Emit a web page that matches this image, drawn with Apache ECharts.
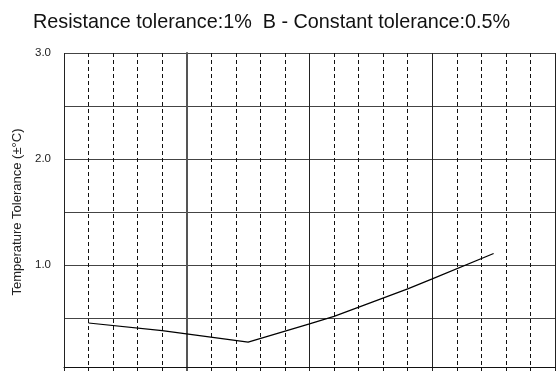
<!DOCTYPE html>
<html>
<head>
    <meta charset="utf-8">
    <title>Temperature tolerance</title>
    <script src="https://cdn.jsdelivr.net/npm/echarts@6/dist/echarts.min.js"></script>
</head>
<body style="margin:0">
    <div id="main" style="width: 558px;height:371px;"></div>
    <script type="text/javascript">
        // temperature (°C) and tolerance (±°C)
        var temps = [-40, -10, 25, 50, 60, 90, 100, 125];
        var tolerance = [0.453, 0.381, 0.272, 0.444, 0.515, 0.775, 0.869, 1.108];
        var yLabels = [1, 2, 3];

        var data = temps.map(function (t, i) { return [t, tolerance[i]]; });

        var myChart = echarts.init(document.getElementById('main'));

        var option = {
            animation: false,
            title: {
                text: 'Resistance tolerance:1%  B - Constant tolerance:0.5%',
                left: 28,
                top: 8,
                textStyle: {
                    fontFamily: 'Liberation Sans, Arial',
                    fontSize: 19.8,
                    fontWeight: 'normal',
                    color: '#111'
                }
            },
            grid: {
                left: 64,
                right: 3,
                top: 53,
                bottom: -3
            },
            xAxis: {
                type: 'value',
                min: -50,
                max: 150,
                interval: 50,
                offset: -4,
                axisLine: { show: true, onZero: false, lineStyle: { color: '#111', width: 1 } },
                axisTick: { show: false },
                axisLabel: { show: false },
                splitLine: { show: true, lineStyle: { color: '#222', width: 1 } },
                minorTick: { show: false, splitNumber: 5 },
                minorSplitLine: {
                    show: true,
                    lineStyle: { color: '#111', width: 1, type: [4, 3] }
                }
            },
            yAxis: {
                type: 'value',
                min: 0,
                max: 3,
                interval: 0.5,
                name: 'Temperature Tolerance (±°C)',
                nameLocation: 'middle',
                nameGap: 30,
                nameTextStyle: {
                    fontFamily: 'Liberation Sans, Arial',
                    fontSize: 13,
                    color: '#222'
                },
                axisLine: { show: true, lineStyle: { color: '#555', width: 2 } },
                axisTick: { show: false },
                axisLabel: {
                    margin: 13,
                    fontFamily: 'Liberation Sans, Arial',
                    fontSize: 11.5,
                    color: '#222',
                    formatter: function (v) {
                        return yLabels.indexOf(v) >= 0 ? v.toFixed(1) : '';
                    }
                },
                splitLine: { show: true, lineStyle: { color: '#444', width: 1 } }
            },
            series: [{
                type: 'line',
                data: data,
                showSymbol: false,
                lineStyle: { color: '#000', width: 1.2 }
            }]
        };
        myChart.setOption(option);
    </script>
</body>
</html>
